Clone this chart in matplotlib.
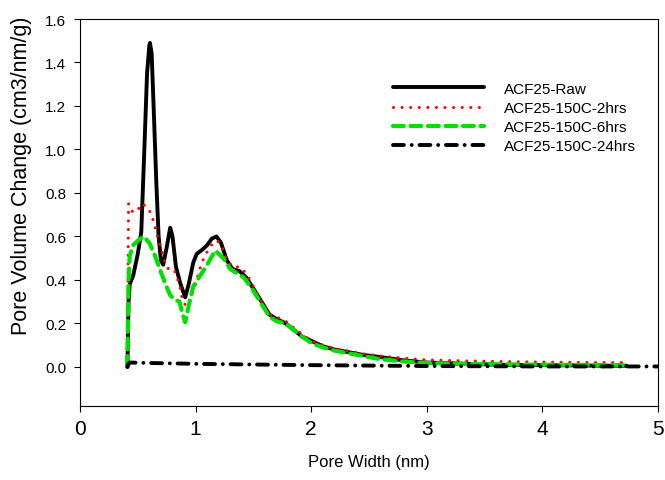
import matplotlib
matplotlib.use("Agg")
import matplotlib.pyplot as plt

plt.rcParams['font.family'] = ['Liberation Sans', 'DejaVu Sans']

# pore size distributions
raw_x = [0.41, 0.42, 0.43, 0.46, 0.50, 0.53, 0.56, 0.58, 0.60, 0.605, 0.62, 0.64, 0.66, 0.68,
         0.70, 0.72, 0.75, 0.78, 0.80, 0.83, 0.87, 0.91, 0.94, 0.98, 1.01, 1.06, 1.10, 1.14,
         1.18, 1.22, 1.27, 1.32, 1.38, 1.44, 1.50, 1.57, 1.64, 1.70, 1.78, 1.85, 1.92, 2.0,
         2.1, 2.2, 2.3, 2.45, 2.6, 2.8, 3.0, 3.3, 3.6, 4.0, 4.4, 4.73]
raw_y = [0.0, 0.30, 0.38, 0.42, 0.52, 0.62, 1.05, 1.35, 1.48, 1.49, 1.44, 1.15, 0.85, 0.60,
         0.49, 0.47, 0.55, 0.64, 0.60, 0.46, 0.38, 0.32, 0.38, 0.48, 0.52, 0.54, 0.56, 0.59,
         0.60, 0.57, 0.49, 0.45, 0.44, 0.41, 0.36, 0.30, 0.24, 0.22, 0.20, 0.17, 0.14, 0.12,
         0.095, 0.08, 0.07, 0.055, 0.045, 0.03, 0.02, 0.015, 0.01, 0.008, 0.006, 0.005]

h2_x = [0.41, 0.415, 0.42, 0.44, 0.47, 0.50, 0.53, 0.57, 0.60, 0.63, 0.66, 0.70, 0.74, 0.78,
        0.82, 0.86, 0.89, 0.92, 0.95, 0.99, 1.03, 1.07, 1.11, 1.15, 1.19, 1.23, 1.27, 1.32,
        1.38, 1.44, 1.50, 1.57, 1.64, 1.70, 1.78, 1.85, 1.92, 2.0, 2.1, 2.2, 2.3, 2.45, 2.6,
        2.8, 3.0, 3.3, 3.6, 4.0, 4.4, 4.73]
h2_y = [0.0, 0.40, 0.75, 0.72, 0.71, 0.72, 0.75, 0.74, 0.72, 0.68, 0.62, 0.55, 0.47, 0.44,
        0.44, 0.38, 0.30, 0.28, 0.31, 0.36, 0.44, 0.50, 0.54, 0.57, 0.58, 0.55, 0.49, 0.46,
        0.46, 0.43, 0.37, 0.30, 0.24, 0.23, 0.21, 0.18, 0.15, 0.12, 0.10, 0.085, 0.075, 0.06,
        0.05, 0.04, 0.032, 0.028, 0.025, 0.022, 0.02, 0.02]

h6_x = [0.41, 0.42, 0.43, 0.46, 0.50, 0.55, 0.60, 0.65, 0.69, 0.74, 0.78, 0.82, 0.86, 0.89,
        0.91, 0.94, 0.98, 1.04, 1.10, 1.17, 1.24, 1.30, 1.36, 1.42, 1.50, 1.57, 1.64, 1.70,
        1.78, 1.85, 1.92, 2.0, 2.1, 2.2, 2.3, 2.45, 2.6, 2.8, 3.0, 3.3, 3.6, 4.0, 4.4, 4.73]
h6_y = [0.0, 0.40, 0.51, 0.56, 0.58, 0.60, 0.57, 0.51, 0.45, 0.38, 0.33, 0.31, 0.30, 0.24,
        0.205, 0.28, 0.37, 0.42, 0.47, 0.535, 0.50, 0.45, 0.43, 0.41, 0.35, 0.29, 0.23, 0.21,
        0.20, 0.17, 0.14, 0.11, 0.09, 0.075, 0.065, 0.05, 0.035, 0.025, 0.018, 0.014, 0.012,
        0.01, 0.009, 0.008]

h24_x = [0.41, 0.42, 0.43, 0.6, 1.0, 1.5, 2.0, 2.5, 3.0, 3.5, 4.0, 4.5, 5.0]
h24_y = [0.0, 0.015, 0.02, 0.018, 0.014, 0.011, 0.008, 0.006, 0.004, 0.003, 0.002, 0.002, 0.002]

labels = ['ACF25-Raw', 'ACF25-150C-2hrs', 'ACF25-150C-6hrs', 'ACF25-150C-24hrs']

fig = plt.figure(figsize=(6.65, 4.81), dpi=100)
ax = fig.add_axes([0.1203, 0.1538, 0.8692, 0.8046])

ax.plot(raw_x, raw_y, color='black', lw=2.8, solid_capstyle='round', label=labels[0])
ax.plot(h2_x, h2_y, color='red', lw=2.2, linestyle=(0, (0.01, 2.8)),
        dash_capstyle='round', label=labels[1])
ax.plot(h6_x, h6_y, color='#00e000', lw=3.0, linestyle=(0, (2.6, 1.6)),
        dash_capstyle='round', label=labels[2])
ax.plot(h24_x, h24_y, color='black', lw=2.8, linestyle=(0, (2.8, 2.0, 0.01, 2.0)),
        dash_capstyle='round', label=labels[3])

ax.set_xlim(0, 5)
ax.set_ylim(-0.18, 1.6)
ax.set_xticks([0, 1, 2, 3, 4, 5])
ax.set_yticks([0.0, 0.2, 0.4, 0.6, 0.8, 1.0, 1.2, 1.4, 1.6])
ax.set_yticklabels(['%.1f' % v for v in ax.get_yticks()])
ax.tick_params(axis='x', direction='out', length=4, width=0.8, pad=5, labelsize=15)
ax.tick_params(axis='y', direction='out', length=4, width=0.8, pad=6, labelsize=11)
for s in ax.spines.values():
    s.set_linewidth(0.8)

ax.set_xlabel('Pore Width (nm)', fontsize=12, labelpad=12)
ax.set_ylabel('Pore Volume Change (cm3/nm/g)', fontsize=15.5)
ax.yaxis.set_label_coords(-0.083, 0.597)

ax.legend(loc='upper left', bbox_to_anchor=(0.5415, 0.838), frameon=False, fontsize=11,
          handlelength=5.95, handletextpad=1.3, labelspacing=0.34, borderpad=0,
          borderaxespad=0)

fig.savefig('out.png', dpi=100)
